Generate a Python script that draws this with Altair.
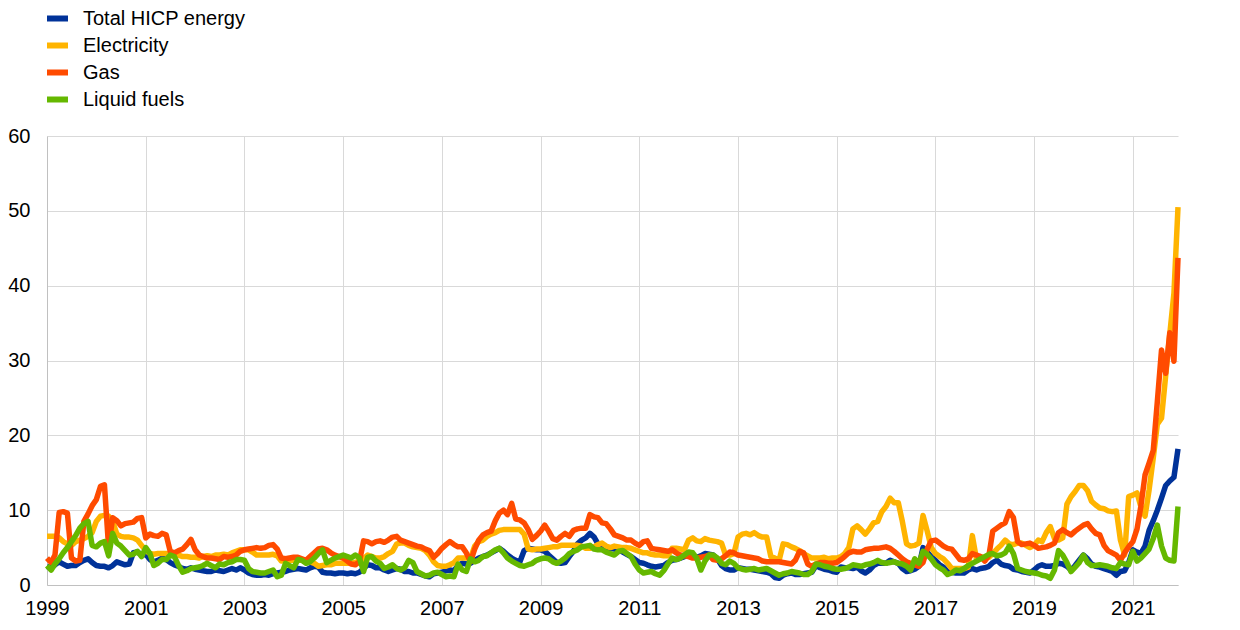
import altair as alt
import pandas as pd

series_names = ["Total HICP energy", "Electricity", "Gas", "Liquid fuels"]
series_colors = ["#003299", "#FFB400", "#FF4B00", "#65B800"]
tick_years = list(range(1999, 2022, 2))
y_ticks = [0, 10, 20, 30, 40, 50, 60]

# monthly values, Jan 1999 - Dec 2021 (one row per year)
total_hicp_energy = [
    2.5, 2.3, 2.7, 3.1, 2.8, 2.5, 2.6, 2.6, 3.0, 3.3, 3.5, 3.0,
    2.6, 2.5, 2.5, 2.3, 2.6, 3.1, 2.9, 2.7, 2.8, 4.3, 4.4, 4.0,
    4.1, 3.4, 3.1, 3.3, 3.6, 3.4, 3.0, 2.7, 2.5, 2.2, 2.1, 2.3,
    2.1, 2.0, 1.9, 1.8, 1.8, 2.0, 1.9, 1.8, 2.0, 2.2, 2.0, 2.3,
    2.0, 1.6, 1.4, 1.3, 1.3, 1.4, 1.3, 1.5, 1.6, 1.7, 1.8, 2.0,
    2.1, 2.2, 2.1, 2.0, 2.3, 2.5, 2.4, 1.7, 1.6, 1.6, 1.5, 1.6,
    1.6, 1.5, 1.6, 1.5, 1.7, 2.2, 2.7, 2.6, 2.3, 2.3, 2.0, 1.8,
    2.0, 2.2, 2.1, 1.8, 1.8, 1.6, 1.6, 1.4, 1.2, 1.1, 1.5, 1.6,
    1.7, 1.9, 2.0, 1.9, 2.6, 2.9, 2.8, 2.9, 3.3, 3.6, 3.8, 4.0,
    4.3, 4.6, 4.9, 4.5, 4.0, 3.6, 3.3, 3.1, 4.6, 4.9, 4.8, 4.7,
    4.7, 4.5, 4.0, 3.5, 3.0, 2.9, 3.0, 3.8, 4.5, 5.5, 6.0, 6.3,
    6.9, 6.4, 5.5, 5.0, 4.9, 4.9, 4.8, 4.7, 4.4, 4.1, 3.8, 3.4,
    3.0, 2.9, 2.7, 2.5, 2.4, 2.5, 2.6, 3.0, 3.3, 3.4, 3.6, 3.8,
    3.9, 4.0, 3.7, 3.9, 4.2, 4.1, 4.0, 3.5, 2.6, 2.2, 2.0, 2.0,
    2.3, 2.2, 2.1, 2.1, 2.0, 1.9, 1.8, 1.7, 1.5, 1.0, 0.9, 1.3,
    1.5, 1.6, 1.4, 1.4, 1.5, 1.6, 1.7, 2.6, 2.3, 2.1, 2.0, 1.8,
    1.7, 2.4, 2.3, 2.3, 2.2, 2.4, 1.9, 1.6, 2.0, 2.6, 2.9, 2.9,
    2.9, 3.3, 3.1, 2.9, 2.2, 1.8, 1.9, 2.1, 2.5, 5.0, 4.4, 3.8,
    3.3, 2.7, 2.4, 1.8, 1.7, 1.6, 1.6, 1.6, 2.0, 2.2, 2.0, 2.2,
    2.3, 2.5, 3.0, 3.3, 2.8, 2.6, 2.5, 2.1, 2.0, 1.8, 1.7, 1.6,
    2.0, 2.5, 2.7, 2.5, 2.5, 2.6, 2.9, 2.8, 2.5, 2.0, 2.6, 3.3,
    4.0, 3.5, 2.8, 2.5, 2.4, 2.2, 2.0, 1.8, 1.3, 1.8, 1.9, 3.0,
    4.7, 4.4, 4.2, 5.2, 7.3, 8.6, 10.0, 11.6, 13.3, 13.9, 14.4, 18.2,
]

electricity = [
    6.5, 6.5, 6.5, 6.3, 5.8, 5.5, 5.3, 5.8, 6.0, 6.2, 6.5, 7.0,
    8.5, 9.2, 9.3, 9.2, 8.5, 6.8, 6.5, 6.4, 6.4, 6.3, 6.0, 5.3,
    4.6, 4.2, 4.1, 4.2, 4.2, 4.2, 4.1, 4.0, 4.0, 3.8, 3.8, 3.7,
    3.7, 3.6, 3.8, 3.9, 3.8, 4.0, 4.0, 4.1, 4.0, 4.3, 4.5, 4.7,
    4.7, 4.7, 4.4, 4.0, 4.0, 4.0, 4.0, 4.1, 3.9, 3.2, 3.3, 3.3,
    3.3, 3.3, 3.3, 3.3, 3.1, 2.9, 2.5, 2.6, 2.7, 2.7, 2.9, 2.9,
    2.9, 2.9, 2.9, 3.0, 3.3, 3.5, 4.0, 3.8, 3.6, 3.6, 3.8, 4.2,
    4.5, 5.5, 5.6, 5.6, 5.3, 5.1, 5.0, 4.9, 4.6, 4.0, 3.1, 2.6,
    2.5, 2.5, 2.7, 3.0, 3.6, 3.6, 3.6, 3.6, 5.2, 5.8, 6.0, 6.5,
    6.8, 7.0, 7.3, 7.4, 7.4, 7.4, 7.4, 7.4, 6.8, 4.8, 4.7, 4.8,
    4.8, 4.9, 5.0, 5.1, 5.1, 5.3, 5.3, 5.3, 5.3, 5.3, 5.2, 4.9,
    4.9, 5.1, 5.4, 5.6, 5.2, 5.0, 5.2, 5.1, 5.0, 5.0, 4.9, 4.7,
    4.5, 4.3, 4.3, 4.1, 4.0, 4.0, 3.9, 3.9, 4.9, 4.9, 4.8, 4.7,
    6.0, 6.3, 5.9, 5.8, 6.2, 6.0, 5.9, 5.8, 5.6, 4.0, 4.0, 4.2,
    6.4, 6.8, 6.9, 6.7, 7.0, 6.6, 6.4, 6.4, 3.8, 3.6, 3.3, 5.5,
    5.4, 5.1, 4.9, 4.6, 4.2, 3.9, 3.6, 3.6, 3.6, 3.7, 3.5, 3.6,
    3.6, 3.8, 4.2, 5.0, 7.5, 7.9, 7.4, 6.8, 7.5, 8.3, 8.5, 9.8,
    10.5, 11.6, 11.0, 11.0, 8.5, 5.5, 5.2, 5.3, 5.6, 9.3, 7.2, 5.0,
    4.2, 3.8, 3.5, 2.9, 2.2, 2.2, 2.2, 2.2, 2.4, 6.6, 3.4, 3.8,
    3.6, 3.7, 4.2, 4.8, 5.3, 6.0, 5.5, 5.4, 5.6, 5.6, 5.3, 5.0,
    5.3, 6.0, 5.8, 7.0, 7.8, 6.2, 6.0, 6.3, 10.8, 11.8, 12.5, 13.3,
    13.3, 12.6, 11.2, 10.7, 10.3, 10.2, 9.9, 9.8, 9.9, 6.0, 4.0, 11.8,
    12.0, 12.3, 10.5, 9.2, 12.7, 17.0, 21.5, 22.3, 28.0, 33.5, 39.0, 50.5,
]

gas = [
    3.6, 3.0, 4.0, 9.7, 9.8, 9.6, 3.6, 3.2, 3.3, 8.5, 9.5, 10.6,
    11.4, 13.2, 13.4, 5.0, 9.0, 8.6, 7.9, 8.2, 8.3, 8.4, 8.9, 9.0,
    6.3, 6.8, 6.6, 6.5, 6.9, 6.7, 4.5, 4.3, 4.6, 4.8, 5.4, 6.1,
    4.7, 4.0, 3.8, 3.6, 3.6, 3.5, 3.4, 3.8, 3.7, 3.8, 4.0, 4.5,
    4.7, 4.8, 4.9, 5.0, 4.9, 5.0, 5.3, 5.4, 4.8, 3.6, 3.5, 3.6,
    3.7, 3.7, 3.5, 3.3, 3.8, 4.3, 4.8, 4.9, 4.7, 4.3, 4.0, 3.8,
    3.6, 3.2, 2.8, 2.7, 3.1, 5.9, 5.8, 5.5, 5.8, 5.9, 5.7, 6.0,
    6.4, 6.5, 6.0, 5.8, 5.6, 5.4, 5.2, 5.1, 4.8, 4.6, 3.7, 4.2,
    4.9, 5.4, 5.8, 5.4, 5.1, 5.1, 4.3, 3.1, 4.8, 6.0, 6.7, 7.0,
    7.2, 8.6, 9.6, 10.0, 9.4, 10.9, 8.8, 8.7, 8.3, 7.4, 6.1, 6.6,
    7.2, 8.0, 7.2, 6.2, 6.0, 6.5, 6.9, 6.5, 7.3, 7.5, 7.6, 7.6,
    9.4, 9.1, 9.0, 8.3, 8.2, 7.5, 6.7, 6.5, 6.3, 6.0, 6.0, 5.6,
    5.3, 5.8, 5.9, 4.9, 4.8, 4.7, 4.6, 4.5, 4.7, 4.3, 4.0, 3.9,
    3.8, 3.6, 3.6, 3.7, 3.8, 4.0, 3.4, 3.3, 3.5, 3.9, 4.4, 4.3,
    4.0, 3.9, 3.8, 3.7, 3.6, 3.5, 3.2, 3.1, 3.1, 3.1, 3.1, 3.0,
    2.9, 2.8, 3.3, 4.5, 4.3, 2.8, 2.5, 2.8, 3.0, 3.0, 2.9, 2.9,
    3.0, 3.4, 3.8, 4.3, 4.5, 4.4, 4.4, 4.7, 4.8, 4.9, 4.9, 5.0,
    5.1, 4.9, 4.5, 4.0, 3.5, 3.1, 2.9, 2.7, 2.5, 3.0, 4.8, 5.9,
    6.0, 5.6, 5.2, 4.9, 4.8, 4.1, 3.4, 3.3, 3.5, 4.2, 4.0, 3.8,
    3.2, 4.0, 7.2, 7.6, 8.0, 8.3, 9.8, 9.0, 5.8, 5.4, 5.5, 5.6,
    5.3, 4.9, 5.0, 5.1, 5.3, 5.6, 7.0, 7.4, 7.0, 6.7, 7.2, 7.6,
    8.0, 8.2, 7.5, 6.9, 6.7, 5.3, 4.6, 4.3, 4.0, 3.3, 4.3, 5.1,
    5.8, 7.5, 10.5, 14.7, 16.3, 18.0, 24.5, 31.4, 28.3, 33.7, 29.9, 43.7,
]

liquid_fuels = [
    2.6, 2.0, 2.8, 3.5, 4.3, 5.0, 5.8, 6.6, 7.6, 8.2, 8.5, 5.3,
    5.1, 5.6, 5.8, 3.9, 6.9, 5.6, 5.2, 4.6, 4.0, 4.1, 4.5, 3.8,
    5.0, 4.2, 2.6, 2.9, 3.4, 3.4, 4.0, 3.8, 2.6, 1.7, 1.9, 2.2,
    2.3, 2.4, 2.6, 2.9, 2.6, 2.3, 2.8, 2.7, 3.0, 3.1, 3.4, 3.4,
    3.3, 2.2, 1.8, 1.7, 1.6, 1.6, 1.8, 2.0, 1.1, 1.3, 2.9, 2.6,
    2.3, 3.4, 3.3, 2.9, 3.1, 3.6, 4.2, 4.7, 3.0, 3.3, 3.6, 3.8,
    4.0, 3.8, 3.6, 4.0, 3.6, 1.8, 3.7, 3.8, 3.2, 2.9, 2.2, 2.4,
    2.7, 2.2, 2.0, 2.3, 3.3, 3.0, 1.8, 1.5, 1.2, 1.3, 1.6, 1.7,
    1.4, 1.1, 1.2, 1.1, 2.8, 2.0, 1.8, 3.5, 3.1, 3.3, 3.8, 3.9,
    4.3, 4.7, 4.9, 4.3, 3.6, 3.2, 2.9, 2.6, 2.5, 2.7, 2.9, 3.3,
    3.5, 3.6, 3.5, 3.1, 2.9, 3.2, 3.6, 4.2, 4.5, 4.7, 5.1, 5.2,
    5.3, 4.8, 4.7, 4.7, 4.4, 4.2, 4.0, 4.5, 4.6, 4.2, 3.8, 2.8,
    2.0, 1.6, 1.7, 1.8, 1.5, 1.3, 1.9, 2.8, 3.6, 3.4, 3.6, 4.0,
    4.4, 4.3, 3.6, 2.0, 3.2, 4.0, 4.0, 3.6, 2.9, 2.7, 3.2, 2.9,
    2.3, 2.1, 2.0, 2.1, 2.2, 2.0, 2.1, 2.2, 1.9, 1.6, 1.3, 1.5,
    1.6, 1.8, 1.7, 1.6, 1.4, 1.4, 1.8, 2.8, 2.7, 2.5, 2.4, 2.2,
    2.1, 2.1, 2.2, 2.4, 2.7, 2.6, 2.5, 2.7, 2.8, 3.0, 3.3, 3.0,
    2.9, 3.0, 3.1, 2.9, 2.8, 2.5, 2.0, 3.5, 2.9, 4.5, 4.1, 3.5,
    2.7, 2.3, 2.0, 1.4, 1.6, 2.0, 1.9, 2.2, 2.6, 2.9, 3.2, 3.5,
    3.8, 4.1, 4.2, 3.9, 4.0, 4.3, 5.2, 4.2, 2.2, 2.0, 1.8, 1.7,
    1.6, 1.5, 1.3, 1.2, 0.9, 2.0, 4.6, 4.0, 3.0, 1.8, 2.4, 3.0,
    4.0, 3.0, 2.6, 2.6, 2.7, 2.6, 2.5, 2.3, 2.2, 3.0, 2.8, 2.7,
    4.5, 3.2, 3.6, 4.2, 4.8, 6.2, 8.0, 5.2, 3.6, 3.3, 3.2, 10.5,
]

all_values = [total_hicp_energy, electricity, gas, liquid_fuels]
months = pd.date_range("1999-01-01", periods=len(total_hicp_energy), freq="MS").strftime("%Y-%m-%d")

frames = []
for name, vals in zip(series_names, all_values):
    frames.append(pd.DataFrame({"date": list(months), "value": vals, "series": name}))
df = pd.concat(frames, ignore_index=True)

FONT = "Liberation Sans"

x_enc = alt.X(
    "date:T",
    title=None,
    scale=alt.Scale(
        type="utc",
        domain=[alt.DateTime(year=1999, month=1, date=1, utc=True),
                alt.DateTime(year=2021, month=12, date=1, utc=True)],
    ),
    axis=alt.Axis(
        values=[alt.DateTime(year=y, month=1, date=1, utc=True) for y in tick_years],
        format="%Y",
        labelFontSize=20,
        labelPadding=13,
        ticks=False,
        labelFlush=False,
        labelOverlap=False,
    ),
)
y_enc = alt.Y(
    "value:Q",
    title=None,
    scale=alt.Scale(domain=[0, 60], nice=False),
    axis=alt.Axis(values=y_ticks, labelFontSize=20, labelPadding=17, ticks=False),
)
color_enc = alt.Color(
    "series:N",
    sort=series_names,
    scale=alt.Scale(domain=series_names, range=series_colors),
    legend=alt.Legend(
        title=None,
        orient="none",
        legendX=-3,
        legendY=-131,
        symbolType="stroke",
        symbolSize=441,
        symbolStrokeWidth=6,
        labelFontSize=20,
        labelFont=FONT,
        labelColor="#000000",
        labelLimit=0,
        rowPadding=1,
        labelOffset=12,
        padding=0,
    ),
)

layers = []
for name in series_names:
    layers.append(
        alt.Chart(df)
        .transform_filter(alt.datum.series == name)
        .mark_line(strokeWidth=5.5, strokeJoin="round")
        .encode(x=x_enc, y=y_enc, color=color_enc)
    )

chart = (
    alt.layer(*layers)
    .properties(
        width=1131,
        height=449,
        autosize=alt.AutoSizeParams(type="none"),
        padding={"left": 39, "top": 128, "right": 54, "bottom": 37},
    )
    .configure_view(stroke=None)
    .configure_axis(
        labelFont=FONT,
        labelColor="#000000",
        gridColor="#d9d9d9",
        gridWidth=1,
        domainColor="#c0c0c0",
        domainWidth=1,
    )
)

chart.save("out.html", embed_options={"renderer": "svg", "actions": False})
